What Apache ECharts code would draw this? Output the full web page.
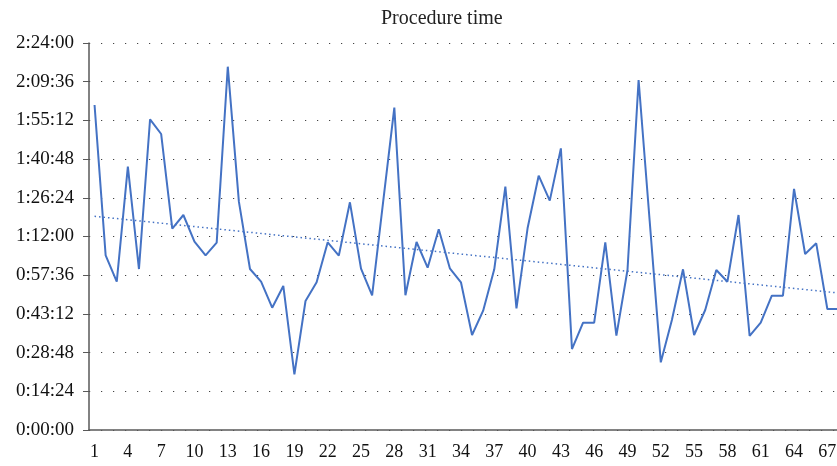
<!DOCTYPE html>
<html>
<head>
<meta charset="utf-8">
<script src="https://cdn.jsdelivr.net/npm/echarts@6/dist/echarts.min.js"></script>
<style>
  html, body { margin: 0; padding: 0; background: #fff; }
  #chart { width: 837px; height: 466px; }
</style>
</head>
<body>
<div id="chart"></div>
<script>
// case numbers (the last one is cut off at the right edge)
const categories = []
for (let i = 1; i <= 68; i++) categories.push(String(i))

// procedure time per case, in seconds
const procedureTime = [
  7256, 3900, 3311, 5879, 3594, 6937, 6608, 4494, 4800, 4204,
  3900, 4182, 8111, 5097, 3594, 3311, 2731, 3215, 1243, 2880,
  3297, 4190, 3892, 5083, 3602, 3007, 5110, 7196, 3007, 4197,
  3624, 4480, 3610, 3297, 2121, 2664, 3587, 5433, 2716, 4503,
  5678, 5120, 6288, 1808, 2396, 2396, 4190, 2106, 3572, 7814,
  4660, 1511, 2456, 3587, 2121, 2679, 3572, 3311, 4800, 2099,
  2396, 2999, 2999, 5381, 3929, 4168, 2701, 2701
]

// linear trend, ends
const trendStart = 4771
const trendEnd = 3059

const yTicks = { min: 0, max: 8640, interval: 864 }

const trend = categories.map((c, i) =>
  i === 0 ? trendStart : i === categories.length - 1 ? trendEnd : null
)

const fmtTime = (v) => {
  const h = Math.floor(v / 3600)
  const m = Math.floor((v % 3600) / 60)
  const s = Math.round(v % 60)
  return h + ':' + String(m).padStart(2, '0') + ':' + String(s).padStart(2, '0')
}

const axisColor = '#595959'
const serif = '"Liberation Serif", "DejaVu Serif", serif'

const chart = echarts.init(document.getElementById('chart'))
chart.setOption({
  animation: false,
  title: {
    text: 'Procedure time',
    left: 376,
    top: 4,
    textStyle: { fontFamily: serif, fontSize: 20, fontWeight: 'normal', color: '#222' }
  },
  grid: {
    left: 89,
    top: 43,
    width: 755,
    bottom: 36,
    containLabel: false,
    outerBoundsMode: 'none'
  },
  xAxis: {
    type: 'category',
    data: categories,
    boundaryGap: true,
    axisLine: { lineStyle: { color: axisColor, width: 1.5 } },
    axisTick: { alignWithLabel: true, interval: 2, length: 6, lineStyle: { color: axisColor } },
    axisLabel: {
      interval: 2,
      margin: 13,
      fontFamily: serif,
      fontSize: 18,
      color: '#111'
    },
    splitLine: { show: false }
  },
  yAxis: {
    type: 'value',
    min: yTicks.min,
    max: yTicks.max,
    interval: yTicks.interval,
    axisLine: { show: true, lineStyle: { color: axisColor, width: 1.5 } },
    axisTick: { show: true, length: 6, lineStyle: { color: axisColor } },
    axisLabel: {
      formatter: fmtTime,
      margin: 15,
      fontFamily: serif,
      fontSize: 19,
      color: '#111'
    },
    splitLine: {
      lineStyle: { color: '#444', width: 1.2, type: [1.2, 10.8] }
    }
  },
  series: [
    {
      name: 'Procedure time',
      type: 'line',
      data: procedureTime,
      symbol: 'none',
      lineStyle: { color: '#4472C4', width: 2 },
      z: 3
    },
    {
      name: 'Trend',
      type: 'line',
      data: trend,
      connectNulls: true,
      symbol: 'none',
      lineStyle: { color: '#4472C4', width: 1.5, type: [1.5, 3] },
      z: 2
    }
  ]
})
</script>
</body>
</html>
